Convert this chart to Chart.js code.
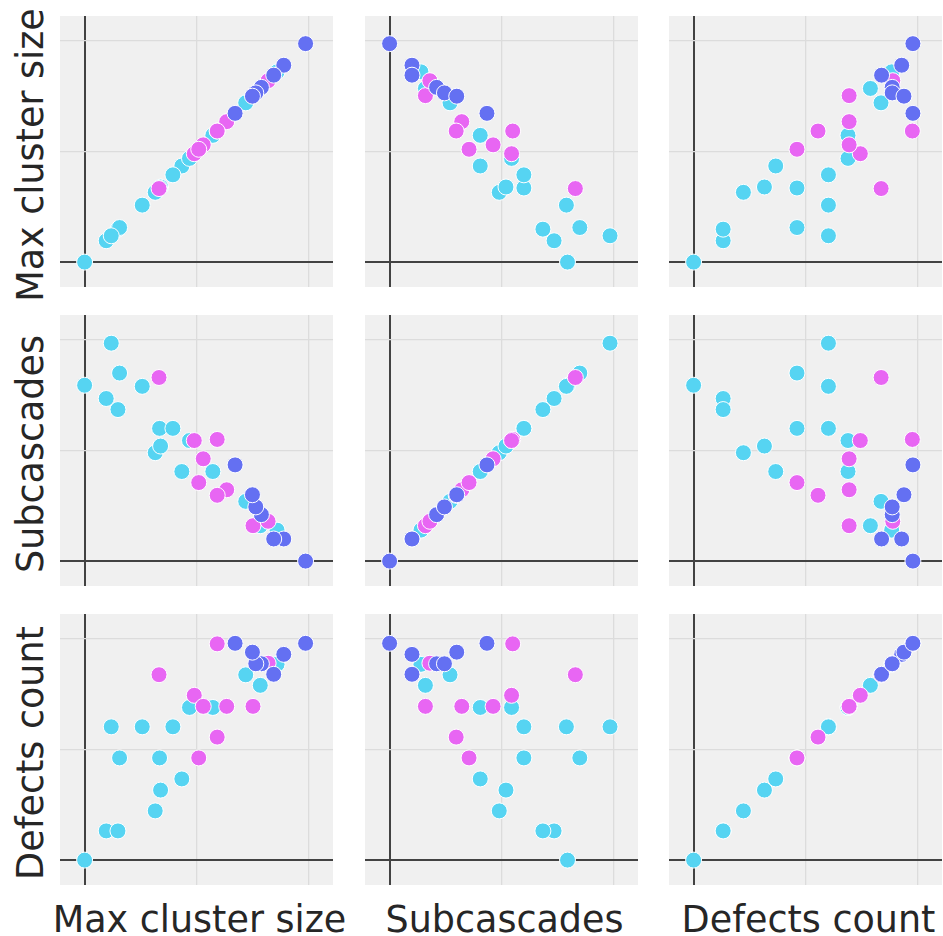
<!DOCTYPE html>
<html><head><meta charset="utf-8">
<script src="https://cdn.jsdelivr.net/npm/chart.js@4.4.0/dist/chart.umd.min.js"></script>
<style>
body{margin:0;background:#fff;width:943px;height:936px;position:relative;overflow:hidden;font-family:'DejaVu Sans',sans-serif;}
.panel{position:absolute;background:#f0f0f0;}
.lbl{position:absolute;font-size:36.5px;line-height:37px;color:#262626;white-space:nowrap;text-align:center;width:360px;height:37px;transform:translate(-50%,-50%);}
.rot{transform:translate(-50%,-50%) rotate(-90deg);}
</style></head><body>
<script>
// Variables (rows / columns of the pair plot)
const variables = ['Max cluster size', 'Subcascades', 'Defects count'];
// Tick positions (no labels shown)
const tickValues = [0, 1, 2];

// Cluster: cyan
const cyanMax = [0, 0.193, 0.298, 0.631, 0.679, 0.869, 0.3125, 0.67, 0.238, 0.515, 0.789, 0.9375, 1.146, 1.44, 1.57, 1.72];
const cyanSub = [1.59, 1.47, 1.37, 0.98, 1.04, 0.81, 1.70, 1.20, 1.97, 1.58, 1.20, 1.09, 0.81, 0.54, 0.32, 0.28];
const cyanDef = [0, 0.264, 0.264, 0.445, 0.633, 0.734, 0.924, 0.924, 1.205, 1.205, 1.205, 1.38, 1.38, 1.675, 1.58, 1.77];

// Cluster: magenta
const magentaMax = [1.185, 0.665, 0.98, 1.06, 1.27, 1.505, 1.185, 1.02, 1.64];
const magentaSub = [1.10, 1.66, 1.09, 0.925, 0.645, 0.32, 0.595, 0.71, 0.36];
const magentaDef = [1.955, 1.676, 1.49, 1.39, 1.39, 1.39, 1.112, 0.924, 1.78];

// Cluster: blue
const blueMax = [1.975, 1.78, 1.69, 1.58, 1.53, 1.50, 1.345];
const blueSub = [0, 0.20, 0.20, 0.42, 0.49, 0.60, 0.87];
const blueDef = [1.96, 1.86, 1.68, 1.775, 1.775, 1.88, 1.96];

const groups = [
  {name: 'cluster 2', color: '#6470f2', order: 0, vals: [blueMax, blueSub, blueDef]},
  {name: 'cluster 1', color: '#e866f3', order: 1, vals: [magentaMax, magentaSub, magentaDef]},
  {name: 'cluster 0', color: '#56d4f2', order: 2, vals: [cyanMax, cyanSub, cyanDef]}
];

const colLeft = [60, 365, 669], colW = 273;
const rowTop = [16, 315, 614], rowH = 271;

function axis(min, max) {
  return {
    type: 'linear', min: min, max: max,
    afterBuildTicks: s => { s.ticks = tickValues.map(v => ({value: v})); },
    ticks: {display: false},
    grid: {
      drawTicks: false,
      color: ctx => (ctx.tick && ctx.tick.value === 0) ? '#424242' : '#dcdcdc',
      lineWidth: ctx => (ctx.tick && ctx.tick.value === 0) ? 2 : 1.3
    },
    border: {display: false}
  };
}

for (let r = 0; r < 3; r++) {
  for (let c = 0; c < 3; c++) {
    const div = document.createElement('div');
    div.className = 'panel';
    div.style.left = colLeft[c] + 'px';
    div.style.top = rowTop[r] + 'px';
    div.style.width = colW + 'px';
    div.style.height = rowH + 'px';
    const cv = document.createElement('canvas');
    cv.width = colW; cv.height = rowH;
    cv.style.width = colW + 'px'; cv.style.height = rowH + 'px';
    div.appendChild(cv);
    document.body.appendChild(div);
    new Chart(cv, {
      type: 'scatter',
      data: {
        datasets: groups.map(g => ({
          label: g.name,
          data: g.vals[c].map((v, i) => ({x: v, y: g.vals[r][i]})),
          backgroundColor: g.color,
          borderColor: '#ffffff',
          borderWidth: 1,
          pointRadius: 8,
          pointHoverRadius: 8,
          order: g.order
        }))
      },
      options: {
        responsive: false, animation: false, events: [],
        layout: {padding: 0, autoPadding: false},
        plugins: {legend: {display: false}, tooltip: {enabled: false}},
        scales: {x: axis(-0.22, 2.22), y: axis(-0.225, 2.225)}
      }
    });
  }
}

// Axis labels as real text
for (let i = 0; i < 3; i++) {
  const b = document.createElement('div');
  b.className = 'lbl';
  b.textContent = variables[i];
  b.style.left = (colLeft[i] + colW / 2 + 3) + 'px';
  b.style.top = '919px';
  document.body.appendChild(b);
  const l = document.createElement('div');
  l.className = 'lbl rot';
  l.textContent = variables[i];
  l.style.left = '30px';
  l.style.top = (rowTop[i] + rowH / 2 + 3) + 'px';
  document.body.appendChild(l);
}
</script>
</body></html>
